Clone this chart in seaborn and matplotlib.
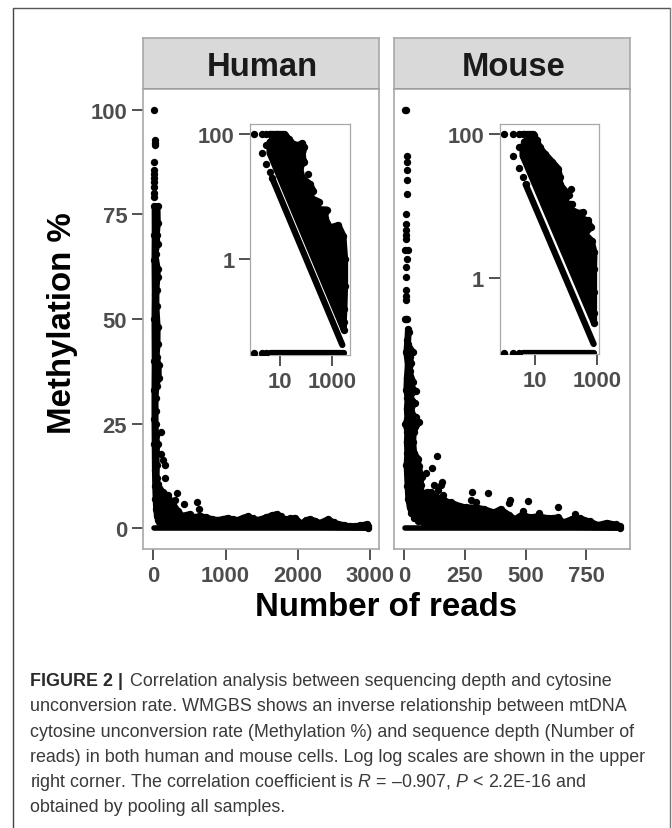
""" Methylation % vs number of reads, human and mouse panels with log-log insets """
import matplotlib
matplotlib.use('Agg')
import matplotlib.pyplot as plt
import seaborn as sns
from matplotlib.lines import Line2D
from matplotlib.ticker import NullLocator

WIDTH, HEIGHT = 672, 829

# ---------------- human, linear panel ----------------
human_dots_reads = [8, 18, 18, 18, 10, 10, 10, 10, 10, 12, 12, 14, 110, 110, 133, 157, 157, 327, 295, 420, 604, 632]
human_dots_meth = [100, 92.7, 92, 91.5, 87.5, 85.7, 84.7, 83.7, 82.7, 81.5, 80.1, 79.1, 23, 17.8, 16.4, 15.1, 12, 8.4, 6.6, 5.7, 6.2, 4.6]
human_blob_reads = [120, 80, 60, 45, 35, 28, 22, 18, 15, 12, 12, 15, 12, 16, 12, 15, 14,
	60, 64, 50, 58, 30, 62, 60, 45, 45, 62, 60, 48, 75, 78, 45, 32, 34, 32, 40, 60, 45, 50, 48, 60,
	133, 202, 272, 341, 400, 503, 572, 640, 733, 815, 895, 965, 1034, 1100, 1173, 1240, 1311, 1380, 1450,
	1560, 1640, 1709, 1770, 1824, 1900, 1963, 2055, 2110, 2170, 2240, 2309, 2424, 2500, 2563, 2640, 2720,
	2800, 2864, 2965, 2975, 2975]
human_blob_meth = [0.9, 1.4, 2, 3, 4.5, 7, 10, 14, 20, 26, 33, 40, 50, 56, 64, 70, 77,
	77, 73, 70, 68, 65.5, 62, 60, 57, 53, 48, 44, 41, 39, 36, 34, 31, 28, 25, 22, 20, 18, 15, 12, 10.5,
	8.6, 7.8, 5.8, 4.2, 3.0, 3.4, 2.6, 3.0, 2.6, 2.2, 2.0, 2.2, 2.5, 2.1, 2.0, 2.5, 2.9, 2.3, 2.0,
	2.6, 3.1, 3.4, 2.8, 2.2, 2.3, 2.5, 1.1, 1.9, 2.2, 1.8, 1.3, 2.2, 1.4, 1.0, 0.8, 0.5,
	0.5, 0.7, 1.0, 0.4, 0]
human_row_reads = [15, 2970]
human_row_meth = [0, 0]

# ---------------- mouse, linear panel ----------------
mouse_dots_reads = [4, 8, 10, 10, 10, 10, 10, 9, 8, 8, 8, 8, 3, 15, 10, 8, 8, 8, 8, 8, 8, 4, 12,
	136, 116, 88, 154, 123, 150, 139, 161, 280, 345, 276, 294, 436, 432, 509, 635, 488, 556, 703]
mouse_dots_meth = [100, 100, 88.9, 87.6, 85.7, 83.3, 79.9, 75, 72.6, 71.4, 70, 69.2, 66.6, 66.6, 64.3, 62.5, 60, 57, 55.6, 54.6, 50, 50, 50,
	17.2, 14.3, 13.1, 11, 10.4, 10.2, 9.2, 8, 8.6, 8.4, 6.6, 6.2, 6.8, 6.0, 6.4, 5.0, 4.1, 3.6, 3.3]
mouse_blob_reads = [110, 80, 57, 42, 30, 22, 16, 13, 9, 12, 10, 12, 5, 12, 10, 13, 8, 10, 14, 8, 12, 15,
	20, 16, 38, 22, 30, 22, 38, 30, 47, 25, 43, 28, 47, 61, 40, 38, 42, 58, 60, 72, 68, 75,
	95, 109, 136, 164, 191, 226, 253, 294, 329, 370, 397, 432, 456, 488, 515, 552, 594, 635, 655,
	690, 724, 765, 799, 834, 872, 889, 889]
mouse_blob_meth = [0.8, 1.2, 1.8, 2.5, 3.5, 5, 7, 10, 15, 18, 20.5, 23, 25, 26, 28.5, 31, 33, 36, 39, 42, 45, 47.6,
	47, 44, 42, 41, 39.5, 37.5, 35, 34, 32.8, 31.5, 30, 28, 26.5, 25.3, 23, 20.5, 18, 16.6, 14.9, 12.2, 10.2, 8.2,
	8.6, 8.6, 7.4, 6.6, 6.2, 5.4, 5.0, 5.0, 4.6, 3.8, 4.6, 3.2, 2.2, 3.4, 2.6, 2.9, 2.4, 2.6, 1.4,
	2.2, 2.4, 1.6, 0.8, 1.3, 0.9, 0.4, 0]
mouse_row_reads = [5, 889]
mouse_row_meth = [0, 0]

# ---------------- human, log-log inset ----------------
human_log_dots_reads = [1, 2, 3, 4, 5, 2, 3, 4, 1, 2, 3, 3, 4, 120]
human_log_dots_meth = [100, 50, 33.3, 25, 20, 100, 66.7, 75, 0.0307, 0.0307, 0.0307, 100, 100, 23]
human_log_blob_reads = [8, 15.5, 22, 32, 50, 71, 85, 71, 85, 58, 71, 140, 187, 140, 308, 250, 604, 521, 809, 1683,
	2612, 3027, 3027, 2851, 2692, 2754, 4, 4, 5.5]
human_log_blob_meth = [100, 98.6, 84, 70, 67, 72, 62, 45, 36, 29.5, 20, 16, 12.4, 9.7, 8.3, 6.3, 6.2, 4.6, 3.2, 3.5,
	2.36, 1.0, 0.37, 0.157, 0.096, 0.0726, 50, 75, 85]
human_log_band_reads = [5, 2393]
human_log_band_meth = [20, 0.0418]
human_log_top_reads = [4, 15]
human_log_top_meth = [100, 100]
human_log_bottom_reads = [4, 2700]
human_log_bottom_meth = [0.0307, 0.0307]

# ---------------- mouse, log-log inset ----------------
mouse_log_dots_reads = [1, 2, 3, 4, 5, 2, 3, 3, 4, 139, 1, 2, 3]
mouse_log_dots_meth = [100, 50, 33.3, 25, 20, 100, 66.7, 100, 100, 17.2, 0.09, 0.09, 0.09]
mouse_log_blob_reads = [9, 11.3, 14.4, 21, 36, 56, 63, 63, 123, 81, 157, 132, 245, 354, 298, 488, 624, 401, 655,
	798, 778, 778, 778, 778, 4, 4, 4.5, 7]
mouse_log_blob_meth = [98, 83, 65, 53, 41, 33, 25, 20, 14.2, 11, 10.6, 9.1, 8, 8.2, 6.8, 6.3, 5.05, 4.1, 3.3,
	2.27, 1.33, 0.63, 0.33, 0.237, 50, 60, 78, 88]
mouse_log_band_reads = [5, 759]
mouse_log_band_meth = [20, 0.121]
mouse_log_top_reads = [4, 9]
mouse_log_top_meth = [100, 100]
mouse_log_bottom_reads = [4, 760]
mouse_log_bottom_meth = [0.09, 0.09]

caption_lines = [
	"unconversion rate. WMGBS shows an inverse relationship between mtDNA",
	"cytosine unconversion rate (Methylation %) and sequence depth (Number of",
	"reads) in both human and mouse cells. Log log scales are shown in the upper",
	r"right corner. The correlation coefficient is $\mathit{R}$ = –0.907, $\mathit{P}$ < 2.2E-16 and",
	"obtained by pooling all samples.",
]

DOT = 28  # marker area, points^2
STROKE_MAIN = 4.0
STROKE_INSET = 4.5


def px_axes(fig, left, top, right, bottom):
	""" Axes from pixel edges of the picture """
	return fig.add_axes([left / WIDTH, 1 - bottom / HEIGHT, (right - left) / WIDTH, (bottom - top) / HEIGHT])


def draw_cloud(ax, dots_x, dots_y, blob_x, blob_y, segments, stroke):
	""" Dots, the solid mass of overplotted dots, and the straight runs of dots """
	ax.fill(blob_x, blob_y, facecolor='black', edgecolor='black', linewidth=stroke, joinstyle='round', zorder=2)
	sns.scatterplot(x=blob_x, y=blob_y, ax=ax, color='black', s=DOT, linewidth=0, legend=False, zorder=3)
	sns.scatterplot(x=dots_x, y=dots_y, ax=ax, color='black', s=DOT, linewidth=0, legend=False, zorder=3)
	for seg_x, seg_y in segments:
		sns.lineplot(x=seg_x, y=seg_y, ax=ax, color='black', linewidth=stroke, estimator=None, sort=False,
			solid_capstyle='round', legend=False, zorder=3)


def style_axes(ax, spine_width=1.2, label_size=15.8):
	for spine in ax.spines.values():
		spine.set_color('#a8a8a8')
		spine.set_linewidth(spine_width)
	ax.tick_params(bottom=True, left=True, length=7.6, width=1.2, color='#333333', labelcolor='#4d4d4d',
		labelsize=label_size, pad=3.8)
	for lab in ax.get_xticklabels() + ax.get_yticklabels():
		lab.set_fontweight('bold')


def strip(fig, left, right, title):
	ax = px_axes(fig, left, 39, right, 90)
	ax.set_facecolor('#d9d9d9')
	ax.set_xticks([])
	ax.set_yticks([])
	for spine in ax.spines.values():
		spine.set_color('#a8a8a8')
		spine.set_linewidth(1.2)
	ax.spines['bottom'].set_color('#555555')
	ax.text(0.505, 0.44, title, transform=ax.transAxes, ha='center', va='center', fontsize=23.6,
		fontweight='bold', color='#1a1a1a')


def main_panel(fig, left, right, xlim, xticks, data, show_y):
	ax = px_axes(fig, left, 90, right, 550)
	draw_cloud(ax, *data, STROKE_MAIN)
	ax.set_xlim(*xlim)
	ax.set_ylim(-5, 105)
	ax.set_xticks(xticks)
	ax.set_xticklabels([str(t) for t in xticks])
	ax.set_yticks([0, 25, 50, 75, 100] if show_y else [])
	ax.set_xlabel('')
	ax.set_ylabel('')
	style_axes(ax)
	return ax


def inset_panel(fig, left, top, right, bottom, xlim, ylim, data):
	ax = px_axes(fig, left, top, right, bottom)
	ax.set_xscale('log')
	ax.set_yscale('log')
	draw_cloud(ax, *data, STROKE_INSET)
	ax.set_xlim(*xlim)
	ax.set_ylim(*ylim)
	ax.set_xticks([10, 1000])
	ax.set_xticklabels(['10', '1000'])
	ax.set_yticks([1, 100])
	ax.set_yticklabels(['1', '100'])
	ax.xaxis.set_minor_locator(NullLocator())
	ax.yaxis.set_minor_locator(NullLocator())
	ax.set_xlabel('')
	ax.set_ylabel('')
	style_axes(ax, spine_width=0.9)
	return ax


if __name__ == "__main__":
	sns.set_style('white')
	plt.rcParams['font.family'] = ['Liberation Sans', 'DejaVu Sans']
	plt.rcParams['mathtext.fontset'] = 'custom'
	plt.rcParams['mathtext.it'] = 'Liberation Sans:italic'
	plt.rcParams['mathtext.rm'] = 'Liberation Sans'

	fig = plt.figure(figsize=(WIDTH / 100, HEIGHT / 100), dpi=100, facecolor='white')

	# outer frame of the figure box
	for xs, ys, col in [([13, 13], [829, 9], '#444444'), ([13, 670], [9, 9], '#555555'), ([670, 670], [9, 829], '#777777')]:
		fig.add_artist(Line2D([x / WIDTH for x in xs], [1 - y / HEIGHT for y in ys], color=col, linewidth=1.0))

	strip(fig, 143, 379, 'Human')
	strip(fig, 394, 630, 'Mouse')

	main_panel(fig, 143, 379, (-144, 3127), [0, 1000, 2000, 3000],
		(human_dots_reads, human_dots_meth, human_blob_reads, human_blob_meth,
		[(human_row_reads, human_row_meth)]), True)
	main_panel(fig, 394, 630, (-42, 930), [0, 250, 500, 750],
		(mouse_dots_reads, mouse_dots_meth, mouse_blob_reads, mouse_blob_meth,
		[(mouse_row_reads, mouse_row_meth)]), False)

	inset_panel(fig, 250.3, 125.3, 349.7, 355.7, (10 ** -0.134, 10 ** 3.66), (10 ** -1.535, 10 ** 2.16),
		(human_log_dots_reads, human_log_dots_meth, human_log_blob_reads, human_log_blob_meth,
		[(human_log_band_reads, human_log_band_meth), (human_log_top_reads, human_log_top_meth),
		(human_log_bottom_reads, human_log_bottom_meth)]))
	inset_panel(fig, 500, 125, 599.3, 355, (10 ** -0.122, 10 ** 3.061), (10 ** -1.056, 10 ** 2.139),
		(mouse_log_dots_reads, mouse_log_dots_meth, mouse_log_blob_reads, mouse_log_blob_meth,
		[(mouse_log_band_reads, mouse_log_band_meth), (mouse_log_top_reads, mouse_log_top_meth),
		(mouse_log_bottom_reads, mouse_log_bottom_meth)]))

	fig.text(386.4 / WIDTH, 1 - 608 / HEIGHT, 'Number of reads', ha='center', va='center', fontsize=23.8,
		fontweight='bold', color='black')
	fig.text(63 / WIDTH, 1 - 323 / HEIGHT, 'Methylation %', ha='center', va='center', rotation=90, fontsize=23.8,
		fontweight='bold', color='black')

	# caption
	cap_color = '#3a3a3a'
	cap_size = 12.9
	fig.text(30 / WIDTH, 1 - 686 / HEIGHT, 'FIGURE 2 |', fontsize=cap_size, fontweight='bold', color='#2a2a2a', va='baseline')
	fig.text(130 / WIDTH, 1 - 686 / HEIGHT, 'Correlation analysis between sequencing depth and cytosine',
		fontsize=cap_size, color=cap_color, va='baseline')
	for i, line in enumerate(caption_lines):
		fig.text(30 / WIDTH, 1 - (711.3 + 25.3 * i) / HEIGHT, line, fontsize=cap_size, color=cap_color, va='baseline')

	fig.savefig('out.png', dpi=100, facecolor='white')
